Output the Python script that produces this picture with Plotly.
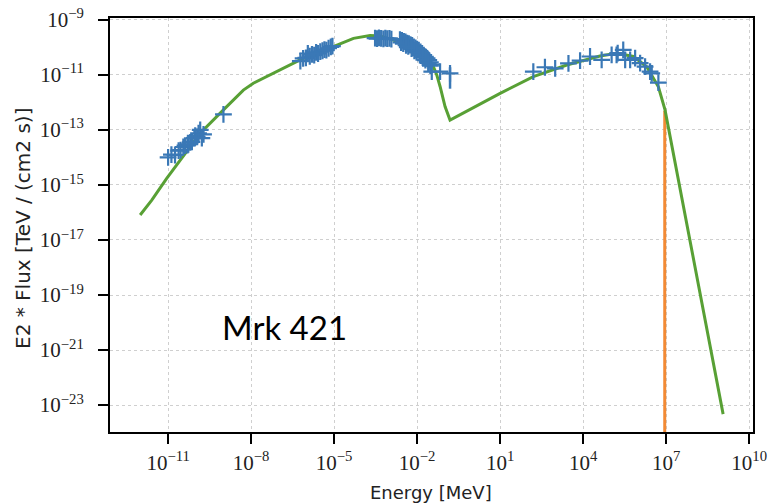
import numpy as np
import plotly.graph_objects as go

# ---- data (log10 values) ----
model_log_e = [-12.01, -11.59, -11.05, -9.84, -9.00, -8.28, -7.92, -7.43, -7.07, -6.23,
               -5.03, -4.30, -3.70, -3.34, -2.86, -2.37, -2.01, -1.65, -1.41, -1.29,
               -1.17, -0.99, -0.81, 1.00, 2.20, 3.41, 4.61, 5.22, 5.82, 6.30, 6.72,
               6.96, 9.06]
model_log_f = [-16.09, -15.55, -14.76, -13.12, -12.27, -11.55, -11.30, -11.06, -10.88, -10.45,
               -9.97, -9.67, -9.57, -9.58, -9.73, -9.91, -10.09, -10.39, -10.70, -11.00,
               -11.42, -12.15, -12.64, -11.67, -11.06, -10.64, -10.31, -10.21, -10.33, -10.70, -11.43,
               -12.27, -23.33]

cut_log_e = [6.95, 6.95]
cut_log_f = [-24.6, -12.30]

radio_log_e = [-11.00, -10.88, -10.75, -10.62, -10.55, -10.45, -10.39, -10.30, -10.27, -10.20,
               -10.14, -10.05, -10.02, -9.95, -9.90, -9.84, -9.78, -9.72, -9.00]
radio_log_f = [-14.00, -13.90, -13.91, -13.75, -13.73, -13.62, -13.57, -13.55, -13.52, -13.45,
               -13.43, -13.30, -13.21, -13.25, -13.12, -13.00, -13.30, -13.16, -12.43]

optical_log_e = [-6.22, -6.12, -6.02, -5.95, -5.88, -5.80, -5.72, -5.65, -5.58, -5.50,
                 -5.42, -5.35, -5.28, -5.20, -5.12, -5.06]
optical_log_f = [-10.50, -10.40, -10.38, -10.22, -10.32, -10.25, -10.28, -10.18, -10.22, -10.15,
                 -10.12, -10.08, -10.10, -10.03, -9.98, -9.95]

xray_log_e = [-3.52, -3.45, -3.38, -3.30, -3.22, -3.15, -3.08, -3.00, -2.93,
              -2.62, -2.55, -2.48, -2.42, -2.36, -2.30, -2.24, -2.18, -2.12, -2.06,
              -2.00, -1.94, -1.88, -1.82, -1.76, -1.70, -1.64, -1.58, -1.52, -1.48,
              -2.58, -2.50, -2.40, -2.32, -2.20, -2.10, -2.02, -1.90, -1.80, -1.70,
              -1.60, -1.52, -1.47, -1.17]
xray_log_f = [-9.66, -9.68, -9.65, -9.67, -9.69, -9.66, -9.68, -9.67, -9.70,
              -9.72, -9.74, -9.78, -9.80, -9.84, -9.86, -9.90, -9.93, -9.98, -10.02,
              -10.06, -10.10, -10.16, -10.22, -10.28, -10.34, -10.40, -10.46, -10.54, -10.62,
              -9.82, -9.86, -9.92, -9.96, -10.04, -10.12, -10.18, -10.28, -10.36, -10.46,
              -10.56, -10.66, -10.88, -10.88]

hard_log_e = [-0.81]
hard_log_f = [-10.94]
hard_log_hi = [-10.72]
hard_log_lo = [-11.50]

gamma_log_e = [2.20, 2.62, 2.99, 3.47, 3.89, 4.25, 4.67, 5.03, 5.21, 5.25, 5.45, 5.52,
               5.70, 5.88, 6.06, 6.24, 6.42, 6.48, 6.72]
gamma_log_f = [-10.88, -10.72, -10.76, -10.58, -10.48, -10.33, -10.45, -10.27, -10.27, -10.21,
               -10.09, -10.45, -10.45, -10.39, -10.57, -10.70, -10.88, -10.94, -11.28]

x_tick_exp = [-11, -8, -5, -2, 1, 4, 7, 10]
y_tick_exp = [-9, -11, -13, -15, -17, -19, -21, -23]
x_range_log = [-13.10, 10.14]
y_range_log = [-23.98, -8.93]

BLUE = "#3a78b6"
GREEN = "#58a035"
ORANGE = "#f28a35"


def p(v):
    return [10.0 ** a for a in v]


def lbl(e):
    s = str(e).replace("-", "\u2212")
    return "10<sup>" + s + "</sup>"


fig = go.Figure()

fig.add_trace(go.Scatter(x=p(cut_log_e), y=p(cut_log_f), mode="lines",
                         line=dict(color=ORANGE, width=3), showlegend=False))
fig.add_trace(go.Scatter(x=p(model_log_e), y=p(model_log_f), mode="lines",
                         line=dict(color=GREEN, width=3), showlegend=False))

marker = dict(symbol="cross-thin", size=12, line=dict(width=2.2, color=BLUE), color=BLUE)
all_e = radio_log_e + optical_log_e + xray_log_e + gamma_log_e
all_f = radio_log_f + optical_log_f + xray_log_f + gamma_log_f
fig.add_trace(go.Scatter(x=p(all_e), y=p(all_f), mode="markers", marker=marker,
                         showlegend=False))

hv = p(hard_log_f)
fig.add_trace(go.Scatter(
    x=p(hard_log_e), y=hv, mode="markers", marker=marker, showlegend=False,
    error_y=dict(type="data", symmetric=False,
                 array=[h - v for h, v in zip(p(hard_log_hi), hv)],
                 arrayminus=[v - l for l, v in zip(p(hard_log_lo), hv)],
                 color=BLUE, thickness=2.5, width=0)))

axis_common = dict(type="log", showline=True, mirror=True, linecolor="black", linewidth=2,
                   ticks="outside", ticklen=10, tickwidth=2, tickcolor="black",
                   showgrid=True, gridcolor="#cfcfcf", gridwidth=1, griddash="dot",
                   zeroline=False, automargin=False, ticklabeloverflow="allow",
                   tickfont=dict(family="Liberation Serif", size=21, color="#222222"))

fig.update_xaxes(range=x_range_log, tickvals=p(x_tick_exp),
                 ticktext=[lbl(e) for e in x_tick_exp], ticklabelstandoff=1, **axis_common)
fig.update_yaxes(range=y_range_log, tickvals=p(y_tick_exp),
                 ticktext=[lbl(e) for e in y_tick_exp], ticklabelstandoff=10, **axis_common)

W, H = 769, 503
L, T, R, B = 110, 18, 16, 71
pw, ph = W - L - R, H - T - B


def px(xp):
    return (xp - L) / pw


def py(yp):
    return (T + ph - yp) / ph


fig.update_layout(
    width=W, height=H, margin=dict(l=L, r=R, t=T, b=B, autoexpand=False),
    paper_bgcolor="white", plot_bgcolor="white",
    annotations=[
        dict(text="Energy [MeV]", xref="paper", yref="paper", x=px(431), y=py(492),
             xanchor="center", yanchor="middle", showarrow=False,
             font=dict(family="DejaVu Sans", size=18, color="#222222")),
        dict(text="E2 * Flux [TeV / (cm2 s)]", xref="paper", yref="paper", x=px(23), y=py(229),
             xanchor="center", yanchor="middle", textangle=-90, showarrow=False,
             font=dict(family="DejaVu Sans", size=20, color="#222222")),
        dict(text="Mrk 421", xref="paper", yref="paper", x=px(220), y=py(327),
             xanchor="left", yanchor="middle", showarrow=False,
             font=dict(family="Lato", size=33, color="black")),
    ],
)

# remove the browser's default 8px body margin so the figure fills the window
fig.write_html("out.html", config={"displayModeBar": False},
               post_script="document.body.style.margin='0px';")
